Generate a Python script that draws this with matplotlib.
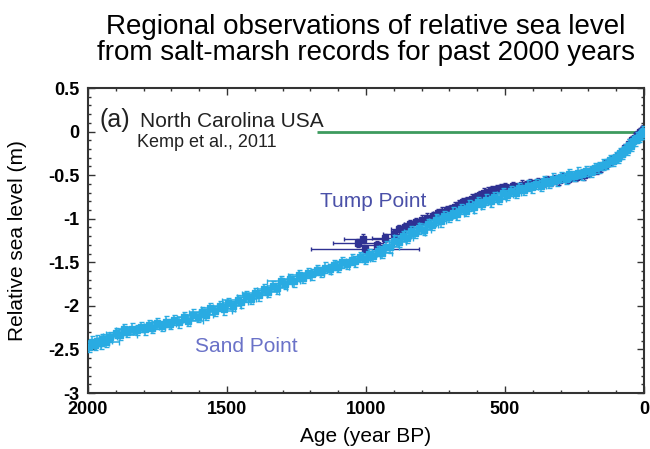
import matplotlib

matplotlib.use("Agg")
import matplotlib.pyplot as plt
from matplotlib.ticker import MultipleLocator, FixedLocator, FixedFormatter

plt.rcParams["font.family"] = ["Liberation Sans", "DejaVu Sans"]

# Sand Point (light blue), ages in years BP, relative sea level in m
sand_age = [
    1995, 1985, 1975, 1968, 1955, 1948, 1935, 1920, 1900, 1885,
    1870, 1858, 1840, 1825, 1810, 1795, 1780, 1768, 1750, 1735,
    1718, 1705, 1690, 1672, 1655, 1640, 1622, 1605, 1590, 1575,
    1560, 1542, 1525, 1510, 1495, 1478, 1462, 1448, 1430, 1415,
    1400, 1385, 1368, 1352, 1336, 1320, 1305, 1290, 1272, 1258,
    1240, 1225, 1210, 1195, 1178, 1162, 1148, 1130, 1115, 1100,
    1085, 1068, 1052, 1038, 1020, 1005, 990, 975, 958, 942,
    928, 912, 898, 882, 868, 852, 838, 822, 808, 792,
    778, 762, 748, 732, 718, 702, 688, 672, 658, 642,
    628, 612, 598, 582, 568, 552, 538, 522, 508, 492,
    478, 462, 448, 432, 418, 402, 388, 372, 358, 342,
    328, 312, 298, 282, 268, 252, 238, 222, 208, 192,
    178, 162, 148, 135, 122, 112, 102, 94, 86, 78,
    70, 62, 55, 48, 40, 33, 26, 19, 12, 6,
    2,
]
sand_rsl = [
    -2.47, -2.41, -2.45, -2.40, -2.43, -2.38, -2.41, -2.36, -2.31, -2.33,
    -2.27, -2.30, -2.26, -2.28, -2.24, -2.27, -2.22, -2.25, -2.20, -2.23,
    -2.18, -2.21, -2.16, -2.19, -2.13, -2.17, -2.10, -2.13, -2.07, -2.10,
    -2.03, -2.06, -2.00, -2.04, -1.97, -2.00, -1.93, -1.96, -1.89, -1.92,
    -1.85, -1.88, -1.81, -1.84, -1.77, -1.80, -1.72, -1.75, -1.69, -1.72,
    -1.65, -1.68, -1.62, -1.64, -1.59, -1.61, -1.56, -1.58, -1.53, -1.55,
    -1.50, -1.52, -1.47, -1.49, -1.44, -1.46, -1.41, -1.43, -1.37, -1.39,
    -1.32, -1.33, -1.25, -1.27, -1.20, -1.22, -1.14, -1.16, -1.11, -1.13,
    -1.06, -1.07, -1.01, -1.03, -0.97, -0.98, -0.93, -0.95, -0.89, -0.91,
    -0.85, -0.87, -0.81, -0.83, -0.78, -0.80, -0.75, -0.77, -0.71, -0.73,
    -0.68, -0.70, -0.65, -0.67, -0.62, -0.64, -0.60, -0.62, -0.57, -0.59,
    -0.54, -0.56, -0.52, -0.54, -0.49, -0.51, -0.47, -0.49, -0.45, -0.46,
    -0.42, -0.41, -0.38, -0.37, -0.33, -0.34, -0.29, -0.30, -0.25, -0.26,
    -0.20, -0.21, -0.15, -0.16, -0.11, -0.10, -0.07, -0.06, -0.03, -0.02,
    0.00,
]
sand_xerr = [
    25, 40, 20, 55, 30, 15, 45, 25, 35, 60,
    30, 20, 40, 25, 65, 30, 20, 45, 25, 35,
    50, 20, 30, 40, 25, 55, 30, 20, 45, 25,
    35, 60, 25, 40, 20, 30, 55, 25, 35, 20,
    45, 30, 25, 40, 20, 35, 50, 25, 30, 20,
    40, 25, 30, 45, 20, 35, 25, 30, 20, 40,
    25, 30, 20, 35, 25, 20, 30, 25, 20, 35,
    25, 30, 20, 25, 30, 20, 25, 35, 20, 25,
    30, 20, 25, 20, 30, 25, 20, 25, 20, 30,
    20, 25, 20, 30, 20, 25, 20, 25, 20, 20,
    25, 20, 20, 25, 20, 20, 25, 20, 20, 15,
    20, 15, 20, 15, 20, 15, 15, 20, 15, 15,
    15, 12, 15, 12, 10, 10, 10, 8, 8, 8,
    8, 6, 6, 6, 5, 5, 5, 4, 4, 4,
    3,
]

# Tump Point (dark blue)
tump_age = [
    1003, 1030, 1010, 960, 930, 900, 880, 860, 840, 820,
    800, 780, 760, 740, 725, 710, 695, 680, 665, 650,
    635, 620, 605, 590, 575, 560, 545, 530, 515, 500,
    485, 470, 455, 440, 425, 410, 395, 380, 365, 350,
    335, 320, 305, 290, 275, 260, 245, 230, 215, 200,
    185, 170, 155, 140, 125, 110, 95, 80, 68, 55,
    44, 34, 25, 16, 8, 3,
]
tump_rsl = [
    -1.35, -1.28, -1.23, -1.30, -1.22, -1.18, -1.12, -1.10, -1.06, -1.04,
    -1.01, -0.99, -0.97, -0.94, -0.92, -0.90, -0.89, -0.86, -0.84, -0.81,
    -0.80, -0.77, -0.75, -0.73, -0.70, -0.69, -0.67, -0.66, -0.65, -0.64,
    -0.66, -0.63, -0.64, -0.61, -0.62, -0.59, -0.60, -0.58, -0.59, -0.56,
    -0.57, -0.55, -0.56, -0.53, -0.54, -0.52, -0.52, -0.49, -0.50, -0.47,
    -0.44, -0.44, -0.41, -0.38, -0.35, -0.32, -0.28, -0.24, -0.19, -0.14,
    -0.10, -0.07, -0.04, -0.01, 0.01, 0.02,
]
tump_xerr = [
    195, 90, 70, 60, 50, 40, 30, 30, 25, 25,
    20, 20, 20, 20, 15, 20, 15, 20, 15, 20,
    15, 20, 15, 15, 20, 15, 15, 20, 15, 15,
    20, 15, 15, 15, 20, 15, 15, 15, 15, 15,
    15, 15, 12, 15, 12, 12, 15, 12, 12, 12,
    10, 10, 10, 10, 8, 8, 8, 6, 6, 5,
    5, 4, 4, 3, 3, 3,
]

y_ticks = [0.5, 0, -0.5, -1, -1.5, -2, -2.5, -3]
y_tick_labels = ["0.5", "0", "-0.5", "-1", "-1.5", "-2", "-2.5", "-3"]
x_ticks = [2000, 1500, 1000, 500, 0]

SAND = "#29abe2"
TUMP = "#2e3192"

fig = plt.figure(figsize=(6.5, 4.49), dpi=100)
ax = fig.add_axes([88 / 650, 1 - 393 / 449, 556 / 650, 305 / 449])

ax.errorbar(tump_age, tump_rsl, xerr=tump_xerr, yerr=0.05, fmt="s", ms=4,
            color=TUMP, ecolor=TUMP, elinewidth=1.0, capsize=1.5, zorder=2)
ax.errorbar(sand_age, sand_rsl, xerr=sand_xerr, yerr=0.06, fmt="s", ms=4.5,
            color=SAND, ecolor=SAND, elinewidth=1.1, capsize=1.8, zorder=3)
ax.hlines(0, 1175, 0, color="#3d9b5e", linewidth=2, zorder=1)

ax.set_xlim(2000, 0)
ax.set_ylim(-3, 0.5)
ax.xaxis.set_major_locator(FixedLocator(x_ticks))
ax.xaxis.set_minor_locator(MultipleLocator(100))
ax.yaxis.set_major_locator(FixedLocator(y_ticks))
ax.yaxis.set_major_formatter(FixedFormatter(y_tick_labels))
ax.yaxis.set_minor_locator(MultipleLocator(0.1))
ax.tick_params(which="both", direction="in", top=True, right=True,
               color="#333333", width=1.0)
ax.tick_params(which="major", length=5, labelsize=13, pad=6)
ax.tick_params(which="minor", length=2.5)
for label in ax.get_xticklabels() + ax.get_yticklabels():
    label.set_fontweight("bold")
for spine in ax.spines.values():
    spine.set_linewidth(1.5)
    spine.set_color("#333333")

ax.set_xlabel("Age (year BP)", fontsize=15, labelpad=6)
ax.set_ylabel("Relative sea level (m)", fontsize=15, labelpad=15)

ax.text(1957, 0.052, "(a)", fontsize=18, color="#222222", va="baseline")
ax.text(1813, 0.052, "North Carolina USA", fontsize=15, color="#222222", va="baseline")
ax.text(1824, -0.177, "Kemp et al., 2011", fontsize=13, color="#222222", va="baseline")
ax.text(1165, -0.866, "Tump Point", fontsize=15, color="#4a50a8", va="baseline")
ax.text(1615, -2.53, "Sand Point", fontsize=15, color="#6a72c8", va="baseline")

fig.text(366 / 650, 1 - 14 / 449,
         "Regional observations of relative sea level\nfrom salt-marsh records for past 2000 years",
         ha="center", va="top", fontsize=20, linespacing=1.0)

fig.savefig("out.png", dpi=100)
plt.close(fig)
